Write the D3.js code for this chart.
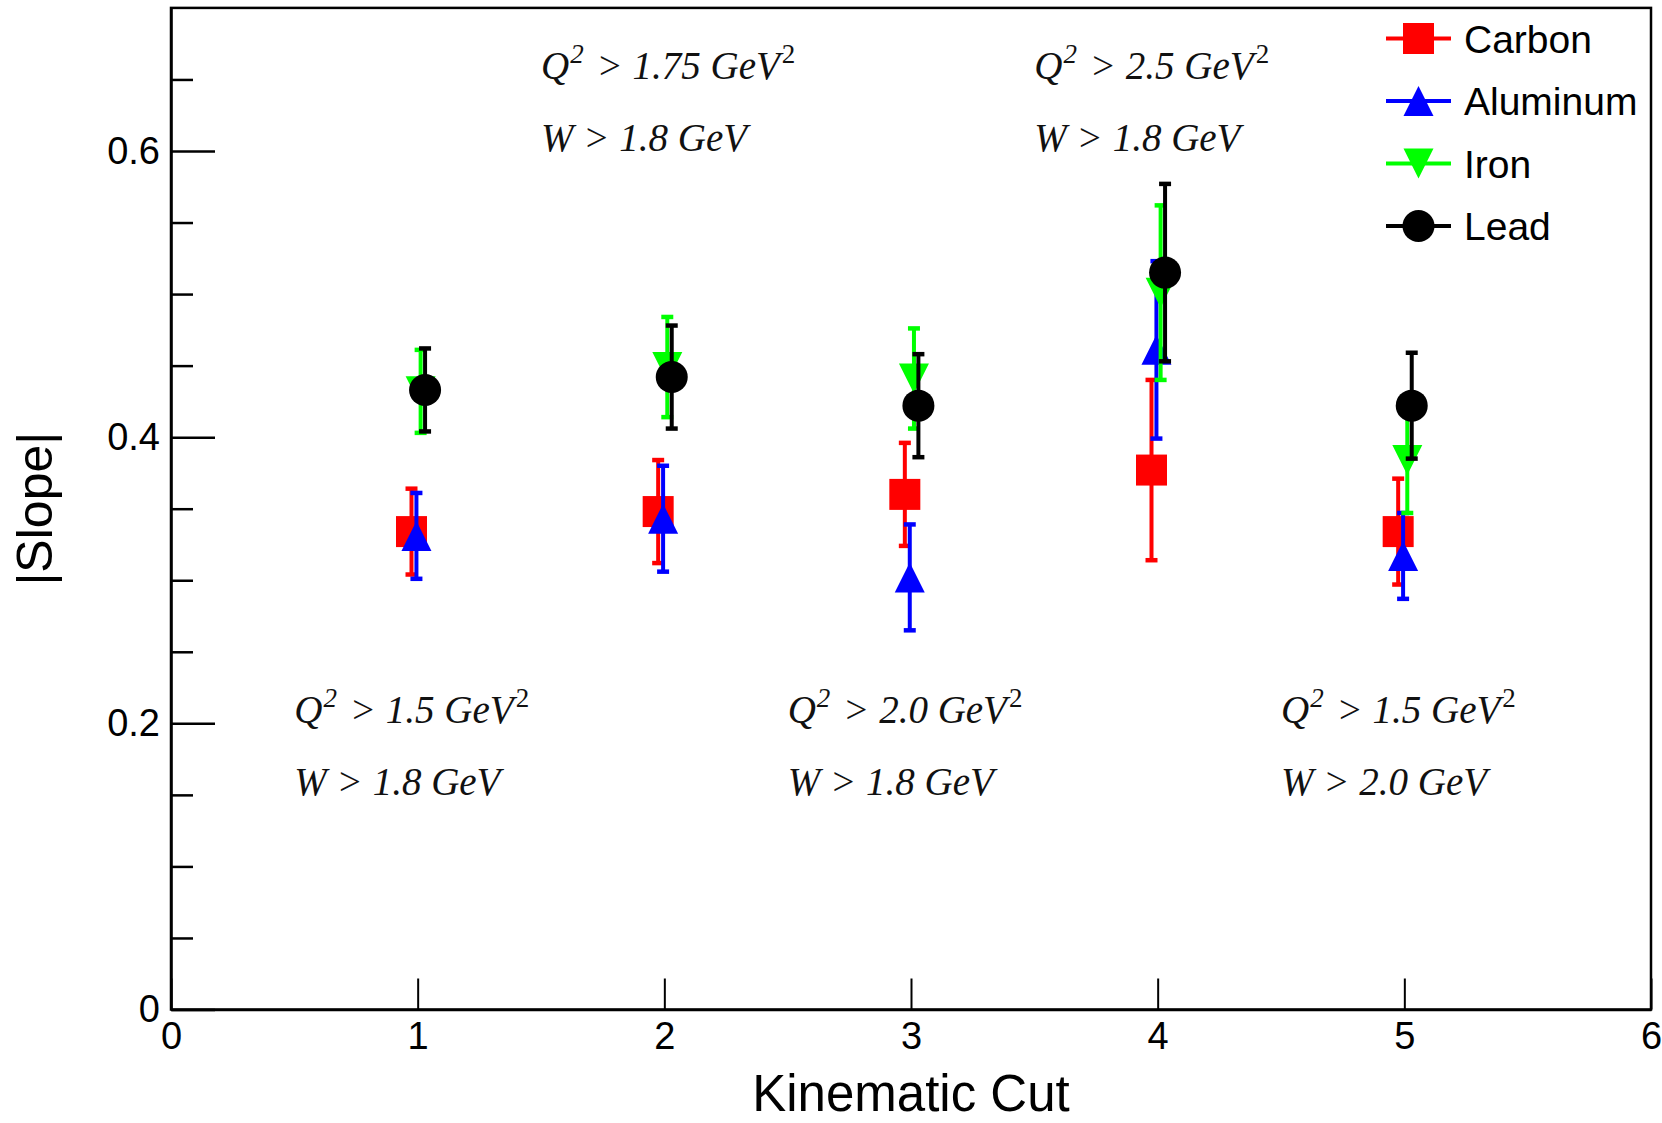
<!DOCTYPE html>
<html><head><meta charset="utf-8">
<script src="https://cdn.jsdelivr.net/npm/d3@7/dist/d3.min.js"></script>
<style>body{margin:0;background:#fff} svg{display:block}</style>
</head><body>
<svg id="chart" width="1662" height="1123"></svg>
<script>
// ---------- data ----------
const cuts = [1, 2, 3, 4, 5];
const seriesNames = ["Carbon", "Aluminum", "Iron", "Lead"];
const carbonSlope   = [0.334, 0.348, 0.360, 0.377, 0.334];
const carbonErr     = [0.030, 0.036, 0.036, 0.063, 0.037];
const aluminumSlope = [0.331, 0.343, 0.302, 0.461, 0.317];
const aluminumErr   = [0.030, 0.037, 0.037, 0.062, 0.030];
const ironSlope     = [0.432, 0.449, 0.441, 0.501, 0.384];
const ironErr       = [0.029, 0.035, 0.035, 0.061, 0.037];
const leadSlope     = [0.433, 0.442, 0.422, 0.515, 0.422];
const leadErr       = [0.029, 0.036, 0.036, 0.062, 0.037];
const xTickValues = [0, 1, 2, 3, 4, 5, 6];
const yTickValues = [0, 0.2, 0.4, 0.6];
const yMinorTickValues = [0.05, 0.1, 0.15, 0.25, 0.3, 0.35, 0.45, 0.5, 0.55, 0.65];
const cutQ2 = ["1.5", "1.75", "2.0", "2.5", "1.5"];
const cutW  = ["1.8", "1.8", "1.8", "1.8", "2.0"];
const xTitle = "Kinematic Cut";
const yTitle = "|Slope|";

// ---------- style ----------
const colors = ["#ff0000", "#0000ff", "#00ff00", "#000000"];
const offsets = [-0.025, -0.005, 0.012, 0.03];
const shapes = ["square", "triUp", "triDown", "circle"];
const sans = "'Liberation Sans', Arial, Helvetica, sans-serif";
const serif = "'Liberation Serif', 'Times New Roman', serif";

const svg = d3.select("#chart");
const x = d3.scaleLinear().domain([0, 6]).range([171, 1651]);
const y = d3.scaleLinear().domain([0, 0.7]).range([1009.5, 7.9]);

// frame
svg.append("rect")
  .attr("x", x(0)).attr("y", y(0.7))
  .attr("width", x(6) - x(0)).attr("height", y(0) - y(0.7))
  .attr("fill", "none").attr("stroke", "#000").attr("stroke-width", 2.5);

// x axis
const gx = svg.append("g").attr("transform", `translate(0,${y(0)})`)
  .call(d3.axisBottom(x).tickValues(xTickValues).tickFormat(d3.format("d"))
    .tickSizeInner(-31).tickSizeOuter(0).tickPadding(13));
gx.select(".domain").attr("stroke-width", 2.5);
gx.selectAll(".tick line").attr("stroke-width", 2);
gx.selectAll("text").attr("font-family", sans).attr("font-size", 38).attr("fill", "#000");

// y axis major
const gy = svg.append("g").attr("transform", `translate(${x(0)},0)`)
  .call(d3.axisLeft(y).tickValues(yTickValues).tickFormat(d => d === 0 ? "0" : d3.format(".1f")(d))
    .tickSizeInner(-44).tickSizeOuter(0).tickPadding(11));
gy.select(".domain").attr("stroke-width", 2.5);
gy.selectAll(".tick line").attr("stroke-width", 2.5);
gy.selectAll("text").attr("font-family", sans).attr("font-size", 38).attr("fill", "#000");

// y axis minor
const gym = svg.append("g").attr("transform", `translate(${x(0)},0)`)
  .call(d3.axisLeft(y).tickValues(yMinorTickValues).tickFormat("")
    .tickSizeInner(-22).tickSizeOuter(0));
gym.select(".domain").remove();
gym.selectAll(".tick line").attr("stroke-width", 2.5);

// axis titles
svg.append("text").attr("x", x(3)).attr("y", 1111)
  .attr("text-anchor", "middle").attr("font-family", sans).attr("font-size", 51)
  .text(xTitle);
svg.append("text").attr("transform", `translate(52,${y(0.35)}) rotate(-90)`)
  .attr("text-anchor", "middle").attr("font-family", sans).attr("font-size", 50)
  .text(yTitle);

// annotations
cuts.forEach((c, i) => {
  const high = i % 2 === 1;
  const y1 = high ? 0.65 : 0.2;
  const y2 = high ? 0.6 : 0.15;
  const t1 = svg.append("text").attr("x", x(c - 0.5)).attr("y", y(y1))
    .attr("font-family", serif).attr("font-style", "italic").attr("font-size", 39).attr("fill", "#111");
  t1.append("tspan").text("Q");
  t1.append("tspan").attr("font-size", 27).attr("dy", -16).attr("dx", 1).text("2");
  t1.append("tspan").attr("dy", 16).attr("dx", 3).text(` > ${cutQ2[i]} GeV`);
  t1.append("tspan").attr("font-size", 27).attr("dy", -16).attr("dx", 2).attr("font-style", "normal").text("2");
  svg.append("text").attr("x", x(c - 0.5)).attr("y", y(y2))
    .attr("font-family", serif).attr("font-style", "italic").attr("font-size", 39).attr("fill", "#111")
    .text(`W > ${cutW[i]} GeV`);
});

// markers
function markerPath(shape) {
  if (shape === "square") return d3.symbol(d3.symbolSquare, 31 * 31)();
  if (shape === "circle") return d3.symbol(d3.symbolCircle, Math.PI * 16 * 16)();
  if (shape === "triUp") return "M0,-15L15,15L-15,15Z";
  return "M0,15L15,-15L-15,-15Z";
}

const series = [
  { vals: carbonSlope, errs: carbonErr },
  { vals: aluminumSlope, errs: aluminumErr },
  { vals: ironSlope, errs: ironErr },
  { vals: leadSlope, errs: leadErr }
];

series.forEach((s, si) => {
  const g = svg.append("g");
  cuts.forEach((c, i) => {
    const cx = x(c + offsets[si]);
    const v = s.vals[i], e = s.errs[i];
    g.append("line").attr("x1", cx).attr("x2", cx).attr("y1", y(v - e)).attr("y2", y(v + e))
      .attr("stroke", colors[si]).attr("stroke-width", 4);
    [v - e, v + e].forEach(ev => {
      g.append("line").attr("x1", cx - 6).attr("x2", cx + 6).attr("y1", y(ev)).attr("y2", y(ev))
        .attr("stroke", colors[si]).attr("stroke-width", 4.5);
    });
    g.append("path").attr("d", markerPath(shapes[si]))
      .attr("transform", `translate(${cx},${y(v)})`).attr("fill", colors[si]);
  });
});

// legend
const leg = svg.append("g");
seriesNames.forEach((n, i) => {
  const cy = 38.5 + i * 62.5;
  leg.append("line").attr("x1", 1386).attr("x2", 1451).attr("y1", cy).attr("y2", cy)
    .attr("stroke", colors[i]).attr("stroke-width", 4);
  leg.append("path").attr("d", markerPath(shapes[i]))
    .attr("transform", `translate(1418.5,${cy})`).attr("fill", colors[i]);
  leg.append("text").attr("x", 1464).attr("y", cy + 14)
    .attr("font-family", sans).attr("font-size", 39).attr("fill", "#000").text(n);
});
</script>
</body></html>
